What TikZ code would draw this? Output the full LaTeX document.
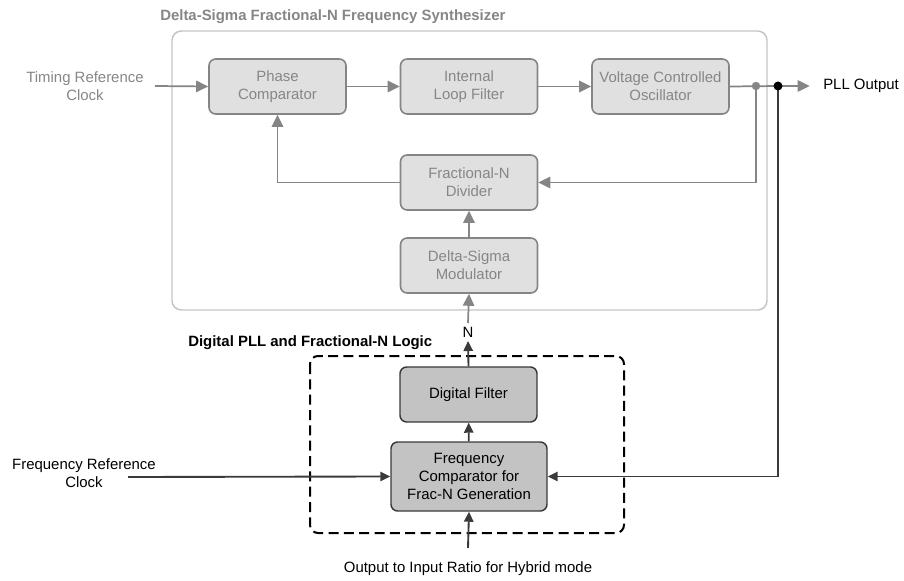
\documentclass[tikz,border=0pt]{standalone}
\usepackage{fontspec}
\setmainfont{Liberation Sans}
\usetikzlibrary{arrows.meta,positioning,calc}
\definecolor{gtext}{HTML}{868686}
\definecolor{gfill}{HTML}{E0E0E0}
\definecolor{gline}{HTML}{858585}
\definecolor{gouter}{HTML}{C4C4C4}
\definecolor{dfill}{HTML}{C3C3C3}
\definecolor{dline}{HTML}{3A3A3A}
\tikzset{
  lbl/.style={font=\fontsize{11.2}{13.5}\selectfont, align=center, inner sep=0pt},
  gbox/.style={lbl, draw=gline, fill=gfill, text=gtext, line width=1.2pt, rounded corners=5pt,
    minimum width=102.75pt, minimum height=41.25pt},
  dbox/.style={lbl, draw=dline, fill=dfill, text=black, line width=1.1pt, rounded corners=5pt},
  garrow/.style={draw=gline, line width=1.3pt, -{Triangle[length=9pt,width=8.5pt]}},
  gwire/.style={draw=gline, line width=1.3pt},
  barrow/.style={draw=dline, line width=1.4pt, -{Triangle[length=7.5pt,width=7pt]}},
  bwire/.style={draw=dline, line width=1.4pt},
}
\begin{document}
\begin{tikzpicture}[x=0.75pt,y=-0.75pt]
\useasboundingbox (0,0) rectangle (904,581);
% outer synthesizer box
\draw[gouter, line width=1.1pt, rounded corners=7pt] (172,31) rectangle (767,310);
\node[lbl, anchor=west, text=gtext, font=\fontsize{11.2}{13.5}\selectfont\bfseries] (stitle) at (160,17) {Delta-Sigma Fractional-N Frequency Synthesizer};
% digital box
\draw[black, line width=1.5pt, dash pattern=on 7.5pt off 4pt, rounded corners=6pt] (310,356) rectangle (624,533);
\node[lbl, anchor=west, font=\fontsize{11.2}{13.5}\selectfont\bfseries] (dtitle) at (188,343) {Digital PLL and Fractional-N Logic};

% gray blocks
\node[gbox] (pc) at (277.5,86.5) {Phase\\Comparator};
\node[gbox] (lf) at (469,86.5) {Internal\\Loop Filter};
\node[gbox] (vco) at (660.5,86.5) {Voltage Controlled\\Oscillator};
\node[gbox] (div) at (469,182.5) {Fractional-N\\Divider};
\node[gbox] (dsm) at (469,265.5) {Delta-Sigma\\Modulator};

% dark blocks
\node[dbox, minimum width=102.75pt, minimum height=41.25pt] (df) at (468.5,394.5) {Digital Filter};
\node[dbox, minimum width=117pt, minimum height=51.75pt] (fc) at (469,476.5) {Frequency\\Comparator for\\Frac-N Generation};

% labels
\node[lbl, text=gtext] (tref) at (85,86) {Timing Reference\\Clock};
\node[lbl, anchor=west] (pllout) at (823,86) {PLL Output};
\node[lbl] (nlab) at (468,332) {N};
\node[lbl] (fref) at (84,473) {Frequency Reference\\Clock};
\node[lbl] (ratio) at (468,569) {Output to Input Ratio for Hybrid mode};

\coordinate (gdot) at (756,86);
\coordinate (bdot) at (778,86);
\coordinate (trefend) at (155,86);
\coordinate (frefend) at (128,477);
\coordinate (ratioend) at (468,548);
\coordinate (nbot) at (468,341);
\coordinate (ntop) at (468,323);

% gray connections
\draw[garrow] (trefend) -- (pc.west);
\draw[garrow] (pc) -- (lf);
\draw[garrow] (lf) -- (vco);
\draw[gwire] (vco.east) -- (bdot);
\draw[garrow] (bdot) -- ([xshift=-10pt]pllout.west);
\draw[garrow] (gdot) |- (div.east);
\draw[garrow] (div.west) -| (pc.south);
\draw[garrow] (dsm) -- (div);
\draw[garrow] (ntop) -- (dsm.south);
\fill[gline] (gdot) circle (4.2);

% black connections
\draw[barrow] (df.north) -- (nbot);
\draw[barrow] (fc) -- (df);
\draw[barrow] (frefend) -- (fc.west);
\draw[barrow] (bdot) |- (fc.east);
\draw[barrow] (ratioend) -- (fc.south);
\fill[black] (bdot) circle (4.5);
\end{tikzpicture}
\end{document}
